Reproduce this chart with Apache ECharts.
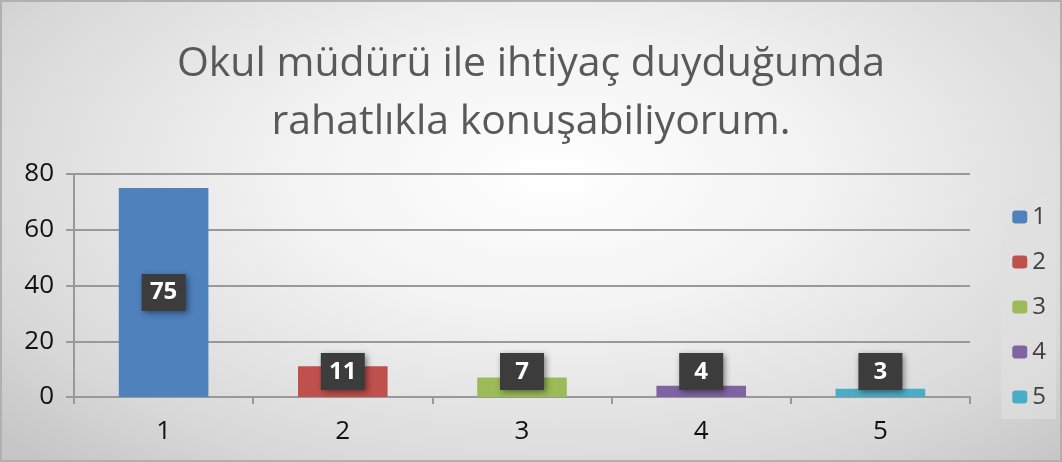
<!DOCTYPE html>
<html>
<head>
<meta charset="utf-8">
<script src="https://cdn.jsdelivr.net/npm/echarts@6/dist/echarts.min.js"></script>
<style>
    html, body { margin: 0; padding: 0; }
    #chart {
        width: 1058px;
        height: 458px;
        border: 2px solid #b0b0b0;
        background: radial-gradient(ellipse 70% 85% at 52% 38%, #ffffff 0%, #f3f3f3 35%, #d8d8d8 80%, #c6c6c6 100%);
    }
</style>
</head>
<body>
<div id="chart"></div>
<script>
// 数据
const categories = ['1', '2', '3', '4', '5'];
const values = [75, 11, 7, 4, 3];
const seriesNames = ['1', '2', '3', '4', '5'];
const yTicks = [0, 20, 40, 60, 80];

const colors = ['#4F81BD', '#C0504D', '#9BBB59', '#8064A2', '#4BACC6'];

const chart = echarts.init(document.getElementById('chart'));

// 每个类别一个系列, 用同一个 stack 让柱子居中
const series = seriesNames.map((name, i) => ({
    name: name,
    type: 'bar',
    stack: 'all',
    barWidth: '50%',
    itemStyle: { color: colors[i] },
    data: categories.map((c, j) => (j === i ? values[i] : '-')),
    label: {
        show: true,
        position: values[i] < 20 ? 'insideBottom' : 'inside',
        distance: 7,
        color: '#fff',
        fontWeight: 'bold',
        fontSize: 24,
        fontFamily: 'Open Sans',
        backgroundColor: '#3c3c3c',
        padding: [7, 8, 6, 8],
        width: 28,
        align: 'center',
        shadowColor: 'rgba(0,0,0,0.45)',
        shadowBlur: 6,
        shadowOffsetX: 2,
        shadowOffsetY: 2
    }
}));

const option = {
    title: {
        text: 'Okul müdürü ile ihtiyaç duyduğumda\nrahatlıkla konuşabiliyorum.',
        left: 'center',
        top: 28,
        textStyle: {
            fontFamily: 'Open Sans',
            fontWeight: 'normal',
            fontSize: 41,
            lineHeight: 58,
            color: '#595959'
        }
    },
    legend: {
        orient: 'vertical',
        right: 4,
        top: 193,
        itemWidth: 15,
        itemHeight: 13,
        itemGap: 21,
        padding: [10, 10, 10, 11],
        backgroundColor: 'rgba(225,225,225,0.6)',
        textStyle: { fontSize: 24, color: '#404040', fontFamily: 'Open Sans' },
        data: seriesNames
    },
    grid: {
        left: 72,
        right: 90,
        top: 172,
        bottom: 63
    },
    xAxis: {
        type: 'category',
        data: categories,
        axisLine: { lineStyle: { color: '#999', width: 2 } },
        axisTick: { show: true, length: 7, lineStyle: { color: '#999', width: 2 } },
        axisLabel: { fontSize: 26, color: '#111', margin: 22, fontFamily: 'Open Sans' }
    },
    yAxis: {
        type: 'value',
        min: yTicks[0],
        max: yTicks[yTicks.length - 1],
        interval: yTicks[1] - yTicks[0],
        axisLine: { show: true, lineStyle: { color: '#999', width: 2 } },
        axisTick: { show: true, length: 8, lineStyle: { color: '#999', width: 2 } },
        axisLabel: { fontSize: 26, color: '#111', margin: 20, fontFamily: 'Open Sans' },
        splitLine: { lineStyle: { color: '#999', width: 2 } }
    },
    series: series
};

chart.setOption(option);
</script>
</body>
</html>
